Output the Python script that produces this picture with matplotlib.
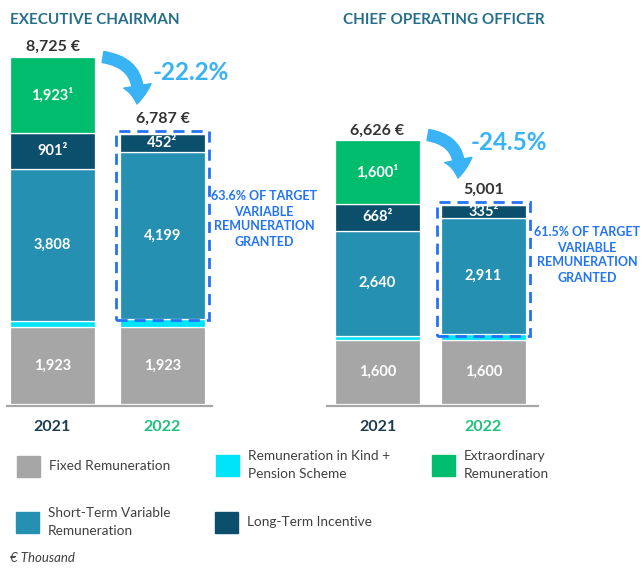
import matplotlib
matplotlib.use('Agg')
import matplotlib.pyplot as plt
from matplotlib.patches import Rectangle, FancyArrowPatch
import numpy as np

plt.rcParams['font.family'] = ['Lato', 'DejaVu Sans']

# ---- data (EUR thousand) ----
years = ['2021', '2022']
series = ['Fixed Remuneration', 'Remuneration in Kind +\nPension Scheme',
          'Short-Term Variable\nRemuneration', 'Long-Term Incentive',
          'Extraordinary\nRemuneration']
footnotes = ['', None, '', '\u00b2', '\u00b9']   # None -> segment not labelled

chairman_fixed = [1923, 1923]
chairman_kind = [170, 213]
chairman_stv = [3808, 4199]
chairman_lti = [901, 452]
chairman_extra = [1923, 0]
chairman_euro = [True, True]
chairman_target_pct = 63.6

coo_fixed = [1600, 1600]
coo_kind = [118, 155]
coo_stv = [2640, 2911]
coo_lti = [668, 335]
coo_extra = [1600, 0]
coo_euro = [True, False]
coo_target_pct = 61.5

COLORS = ['#A6A6A6', '#00E4FA', '#2690B3', '#0C4F6D', '#00BD6E']
TITLE_COLOR = '#256F8B'
ARROW_COLOR = '#39B3F4'
BOX_COLOR = '#2273F5'
TEXT_DARK = '#333333'
YEAR_COLORS = ['#1D3E50', '#1FC07A']

W, H = 643, 568
SCALE = 0.0398  # px per thousand


def fx(x):
    return x / W


def fy(y):
    return 1 - y / H


fig = plt.figure(figsize=(W / 100, H / 100), dpi=100)


def draw_panel(rect_px, centers_px, width_px, title, title_x, parts, euro, target_pct,
               arrow_px, pct_px, note_px):
    x0, x1 = rect_px
    unit = centers_px[1] - centers_px[0]
    bottom_px, top_px = 406, 20
    ax = fig.add_axes([fx(x0), fy(bottom_px), fx(x1) - fx(x0), (bottom_px - top_px) / H])
    ax.set_xlim((x0 - centers_px[0]) / unit, (x1 - centers_px[0]) / unit)
    ax.set_ylim(-2 / SCALE, (bottom_px - top_px - 2) / SCALE)
    width = width_px / unit
    x = np.arange(len(years))

    base = np.zeros(len(years))
    for vals, color, note in zip(parts, COLORS, footnotes):
        vals = np.array(vals, dtype=float)
        ax.bar(x, vals, width, bottom=base, color=color, edgecolor='white', linewidth=0.9)
        if note is not None:
            for xi, v, b in zip(x, vals, base):
                if v > 0:
                    ax.text(xi, b + v / 2, f'{int(v):,}{note}', ha='center', va='center',
                            color='white', fontsize=10.5, fontweight='bold')
        base += vals

    totals = base
    # dashed box around variable part of the 2022 bar
    box_bottom = parts[0][1] + parts[1][1]
    pad_y = 3 / SCALE
    pad_x = 4 / unit
    ax.add_patch(Rectangle((x[1] - width / 2 - pad_x, box_bottom - pad_y / 2),
                           width + 2 * pad_x, totals[1] - box_bottom + pad_y * 1.5,
                           fill=False, edgecolor=BOX_COLOR, linestyle=(0, (4, 2.5)),
                           linewidth=2, clip_on=False, zorder=5))

    for xi, t, e in zip(x, totals, euro):
        off = 6 if xi == 1 else 2
        ax.annotate(f'{int(t):,}' + (' \u20ac' if e else ''), (xi, t), xytext=(0, off),
                    textcoords='offset points', ha='center', va='bottom',
                    fontsize=11.5, fontweight='bold', color=TEXT_DARK)

    for s in ['top', 'left', 'right']:
        ax.spines[s].set_visible(False)
    ax.spines['bottom'].set_color('#A6A6A6')
    ax.spines['bottom'].set_linewidth(1.6)
    ax.set_yticks([])
    ax.set_xticks(x, years)
    ax.tick_params(axis='x', length=0, pad=10)
    for lab, c in zip(ax.get_xticklabels(), YEAR_COLORS):
        lab.set_color(c)
        lab.set_fontweight('bold')
        lab.set_fontsize(11.5)

    fig.text(fx(title_x), fy(20), title, ha='left', va='center', fontsize=11,
             fontweight='bold', color=TITLE_COLOR)

    change = (totals[1] - totals[0]) / totals[0] * 100
    (ax_, ay_), (bx_, by_) = arrow_px
    fig.patches.append(FancyArrowPatch(
        (fx(ax_), fy(ay_)), (fx(bx_), fy(by_)), transform=fig.transFigure,
        connectionstyle='arc3,rad=-0.5',
        arrowstyle='simple,head_width=20,head_length=13,tail_width=8',
        color=ARROW_COLOR, shrinkA=0, shrinkB=0, mutation_scale=1))
    fig.text(fx(pct_px[0]), fy(pct_px[1]), f'{change:.1f}%', ha='center', va='center',
             fontsize=17.5, fontweight='bold', color=ARROW_COLOR)

    fig.text(fx(note_px[0]), fy(note_px[1]),
             f'{target_pct}% OF TARGET\nVARIABLE\nREMUNERATION\nGRANTED',
             ha='center', va='center', fontsize=9, fontweight='bold', color=BOX_COLOR,
             linespacing=1.3)


draw_panel((7, 212), (52.5, 162.5), 85, 'EXECUTIVE CHAIRMAN', 10,
           [chairman_fixed, chairman_kind, chairman_stv, chairman_lti, chairman_extra],
           chairman_euro, chairman_target_pct,
           ((103, 57), (137, 104)), (191, 73), (264, 219))
draw_panel((327, 538), (377.5, 483.5), 85, 'CHIEF OPERATING OFFICER', 343,
           [coo_fixed, coo_kind, coo_stv, coo_lti, coo_extra],
           coo_euro, coo_target_pct,
           ((428, 135), (458, 178)), (509, 142), (587, 255))

# ---- legend (positions follow the series order) ----
legend_pos = [(17, 466), (216, 465), (16, 522), (215, 522), (432, 465)]
for (lx, ly), name, color in zip(legend_pos, series, COLORS):
    fig.patches.append(Rectangle((fx(lx), fy(ly + 11)), 23 / W, 21 / H,
                                 transform=fig.transFigure, color=color))
    fig.text(fx(lx + 32), fy(ly), name, ha='left', va='center', fontsize=9.8,
             color='#404040', linespacing=1.55)

fig.text(fx(10), fy(558), '\u20ac Thousand', ha='left', va='center', fontsize=9.5,
         style='italic', color='#404040')

fig.savefig('out.png', dpi=100)
